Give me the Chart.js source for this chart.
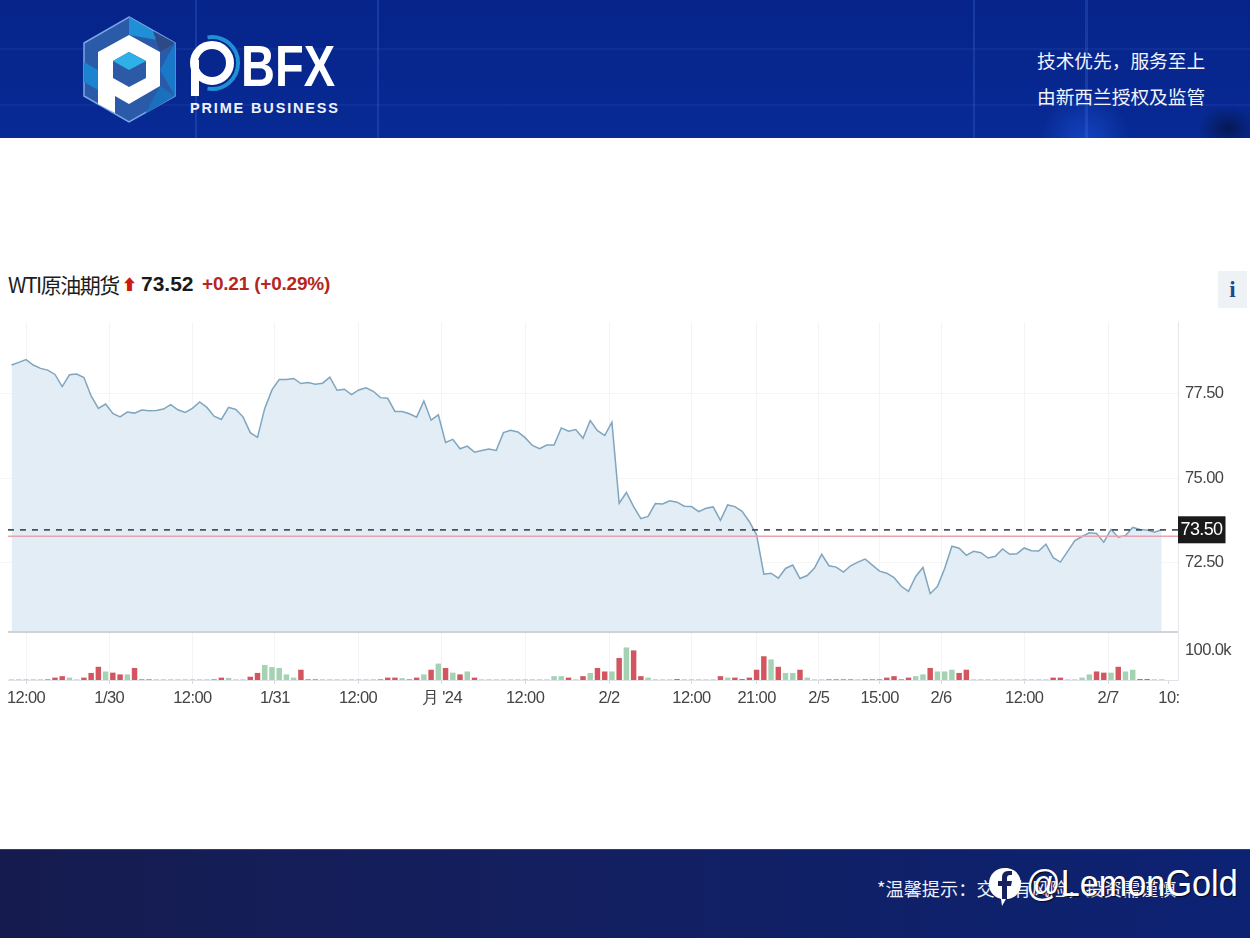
<!DOCTYPE html>
<html lang="zh">
<head>
<meta charset="utf-8">
<title>WTI原油期货</title>
<script src="https://cdn.jsdelivr.net/npm/chart.js@4/dist/chart.umd.min.js"></script>
<style>
html,body{margin:0;padding:0;background:#fff;width:1250px;height:938px;overflow:hidden;font-family:"Noto Sans CJK SC","Noto Sans",sans-serif}
#banner{position:absolute;left:0;top:0;width:1250px;height:138px;overflow:hidden;background:
 radial-gradient(ellipse 30px 22px at 1228px 128px,rgba(5,20,70,.8),rgba(5,20,70,0)),
 radial-gradient(ellipse 45px 50px at 1085px 142px,rgba(30,90,230,.55),rgba(30,90,230,0)),
 linear-gradient(180deg,#06248a 0%,#082a94 100%)}
.vl{position:absolute;top:0;height:138px;width:2px;background:rgba(70,120,235,.25)}
.hl{position:absolute;left:0;width:1250px;height:2px;background:rgba(80,130,235,.1)}
#logo{position:absolute;left:0;top:0}
.slogan{position:absolute;left:1037px;color:#f2f5ff;font-size:18.7px;line-height:24px;white-space:nowrap}
#titleRow{position:absolute;left:8px;top:268px;height:32px;white-space:nowrap}
#titleRow span{position:absolute;top:0;line-height:32px;white-space:nowrap}
#infoBtn{position:absolute;left:1218px;top:271px;width:29px;height:37px;background:#eff2f5;color:#1a4a8c;font:bold 23px/38px "Liberation Serif",serif;text-align:center}
#chartBox{position:absolute;left:0;top:322px;width:1250px;height:393px}
#footer{position:absolute;left:0;top:849px;width:1250px;height:89px;background:linear-gradient(90deg,#151b4e 0%,#141f5e 40%,#0c2273 100%);border-top:1px solid #2c3f8e;box-sizing:border-box}
#tip{position:absolute;left:877px;top:875px;color:#eef1fb;font-size:18.2px;line-height:26px;white-space:nowrap}
#wm{position:absolute;left:1026px;top:861px;color:#fff;font:300 37px/46px "Liberation Sans",sans-serif;white-space:nowrap;transform:scaleX(.925);transform-origin:left top;text-shadow:1px 1px 1px rgba(0,0,0,.75)}
#wmIcon{position:absolute;left:986px;top:866px}
</style>
</head>
<body>
<div id="banner">
 <div class="vl" style="left:195px"></div><div class="vl" style="left:377px"></div>
 <div class="vl" style="left:973px"></div><div class="vl" style="left:1085px;width:3px"></div>
 <div class="hl" style="top:48px"></div><div class="hl" style="top:104px"></div>
 <svg id="logo" width="360" height="138" viewBox="0 0 360 138">
  <polygon points="129,17 175,43 175,96 129,122 84,96 84,43" fill="#2a5aa8" stroke="#7aa6e8" stroke-width="1.5"/>
  <polygon points="129,17 153,31 175,43 129,35" fill="#1f8fd6"/>
  <polygon points="175,43 175,96 160,70" fill="#1a78c8"/>
  <polygon points="153,31 175,43 160,52" fill="#2d4a86"/>
  <polygon points="84,62 98,70 98,90 84,82" fill="#1b83d0"/>
  <polygon points="160,86 175,96 145,114" fill="#1a70bc"/>
  <path d="M129,35 L160,52 L160,86 L129,104 L115,96 L115,113 L98,104 L98,52 Z" fill="#fff"/>
  <polygon points="129,52 146,61 146,78 129,87 113,78 113,61" fill="#2c5aa6"/>
  <polygon points="129,52 146,61 129,70 113,61" fill="#2fb0e6"/>
  <circle cx="212" cy="63" r="18" fill="none" stroke="#fff" stroke-width="8"/>
  <rect x="191" y="60" width="8" height="36" fill="#fff"/>
  <path d="M207.5,37.4 A26,26 0 1 1 207.5,88.6" fill="none" stroke="#1f8fd6" stroke-width="4"/>
  <text x="241" y="86" font-family="Liberation Sans" font-weight="bold" font-size="58" fill="#fff" textLength="94" lengthAdjust="spacingAndGlyphs">BFX</text>
  <text x="190" y="113" font-family="Liberation Sans" font-weight="bold" font-size="14.5" fill="#eef2ff" textLength="148" lengthAdjust="spacing">PRIME BUSINESS</text>
 </svg>
 <div class="slogan" style="top:48px">技术优先，服务至上</div>
 <div class="slogan" style="top:84px">由新西兰授权及监管</div>
</div>

<div id="titleRow">
 <span style="left:0;font-size:21px;color:#1c1c1c;letter-spacing:-1.5px">WTI原油期货</span>
 <span style="left:114px;font-size:15px;color:#cc1a12">⬆</span>
 <span style="left:133px;font:bold 21px/32px 'Liberation Sans',sans-serif;color:#1a1a1a">73.52</span>
 <span style="left:194px;font:bold 19px/32px 'Liberation Sans',sans-serif;color:#b5261e;letter-spacing:-.2px">+0.21 (+0.29%)</span>
</div>
<div id="infoBtn">i</div>

<div id="chartBox"><canvas id="c" width="1250" height="393"></canvas></div>

<div id="footer"></div>
<div id="tip">*温馨提示：交易有风险，投资需谨慎</div>
<svg id="wmIcon" width="38" height="42" viewBox="0 0 38 42">
 <path d="M19,2 C29,2 35,9 35,18 C35,27 28,33 20,33 L16,40 L15,33 C8,31 3,26 3,18 C3,9 9,2 19,2 Z" fill="#fff"/>
 <path d="M21,33 L21,20 L25,20 L26,15 L21,15 L21,12 C21,10 22,9 24,9 L26,9 L26,5 L22,5 C18,5 16,8 16,11 L16,15 L12,15 L12,20 L16,20 L16,33 Z" fill="#16225f"/>
</svg>
<div id="wm">@LemonGold</div>

<script>
const priceValues = [
 78.36,78.44,78.52,78.36,78.26,78.21,78.08,77.72,78.07,78.09,
 77.99,77.44,77.07,77.20,76.92,76.82,76.96,76.93,77.02,77.00,
 77.01,77.05,77.18,77.03,76.95,77.07,77.26,77.10,76.84,76.74,
 77.10,77.04,76.82,76.35,76.21,77.07,77.62,77.93,77.93,77.96,
 77.81,77.84,77.79,77.82,78.00,77.61,77.64,77.48,77.62,77.68,
 77.58,77.39,77.37,76.98,76.98,76.91,76.81,77.29,76.72,76.88,
 76.06,76.15,75.87,75.95,75.77,75.82,75.86,75.82,76.35,76.42,
 76.37,76.20,75.97,75.87,75.98,75.98,76.49,76.39,76.44,76.18,
 76.71,76.41,76.27,76.66,74.25,74.57,74.15,73.79,73.86,74.24,
 74.23,74.32,74.28,74.16,74.15,74.00,74.10,74.14,73.74,74.20,
 74.15,74.01,73.70,73.31,72.14,72.17,72.02,72.31,72.41,72.01,
 72.10,72.32,72.73,72.39,72.35,72.20,72.39,72.50,72.59,72.41,
 72.23,72.17,72.04,71.78,71.63,72.07,72.34,71.56,71.77,72.31,
 72.97,72.91,72.70,72.82,72.78,72.62,72.67,72.89,72.73,72.75,
 72.92,72.84,72.83,73.03,72.63,72.50,72.82,73.14,73.26,73.37,
 73.35,73.09,73.47,73.24,73.29,73.53,73.47,73.45,73.39,73.46
];
const volumeValues = [
 1,0,0,0,0,1,7,12,7,1,7,23,44,28,24,18,18,40,1,1,
 0,0,0,0,0,0,0,0,1,7,6,1,1,10,23,50,43,40,18,7,
 34,1,1,0,0,0,1,0,0,0,0,1,7,7,5,1,7,18,34,55,
 40,24,18,28,7,1,0,0,1,0,0,0,0,0,1,12,12,7,1,12,
 23,40,28,28,74,110,100,12,7,0,1,1,2,0,0,0,1,1,12,7,
 7,2,7,34,80,69,44,23,23,34,7,1,1,1,1,1,1,0,1,1,
 1,7,12,1,7,12,18,40,28,28,34,23,34,1,0,0,0,1,0,0,
 0,0,0,1,7,7,1,1,7,18,28,24,24,44,28,34,2,2,0,0
];
const volumeGreen = [
 1,0,0,0,0,0,0,0,1,1,0,0,0,1,0,0,1,0,0,0,
 0,0,0,0,0,0,0,0,0,0,1,1,1,0,0,1,1,1,1,1,
 0,0,0,0,0,0,1,0,0,0,0,0,0,0,1,0,0,1,0,1,
 0,1,0,1,0,1,0,0,1,0,0,0,0,0,1,1,1,0,1,0,
 1,0,0,1,0,1,0,0,1,0,1,1,0,0,0,0,1,1,0,1,
 0,0,0,0,0,1,0,1,1,0,1,1,1,0,0,0,0,0,0,0,
 0,0,0,0,0,1,1,0,1,1,1,0,0,1,0,0,0,1,0,0,
 0,0,0,1,0,0,1,1,1,1,0,0,1,0,1,1,0,0,0,0
];
const xTickPositions = [2,13.5,25,36.4,47.9,59.5,71,82.6,94,103,111.6,120,128.5,140,151.6,160];
const xTickLabels = ["12:00","1/30","12:00","1/31","12:00","月 '24","12:00","2/2","12:00","21:00","2/5","15:00","2/6","12:00","2/7","10:"];
const priceTicks = [72.5,75,77.5];
const volumeTicks = [100];
const lastPrice = 73.46;
const lastPriceLabel = "73.50";
const prevClose = 73.265;

const tickFont = {family:"'Liberation Sans',sans-serif",size:16.5};
const noPad = s => {s.paddingTop=0;s.paddingBottom=0;s.paddingLeft=0;s.paddingRight=0;};

const overlay = {
 id:'overlay',
 beforeDraw(ch){ch.ctx.letterSpacing='-0.6px';},
 afterDatasetsDraw(ch){
  const {ctx,scales:{x,y,yVol}} = ch;
  const left = 8, right = x.right;
  ctx.save();
  ctx.strokeStyle='#cfd3d8';ctx.lineWidth=2;
  ctx.beginPath();ctx.moveTo(left,y.bottom);ctx.lineTo(right,y.bottom);ctx.stroke();
  ctx.strokeStyle='#dfe2e6';ctx.lineWidth=1;
  ctx.beginPath();ctx.moveTo(left,yVol.bottom+.5);ctx.lineTo(right,yVol.bottom+.5);ctx.stroke();
  const py = y.getPixelForValue(lastPrice);
  ctx.fillStyle='#1a1a1a';ctx.fillRect(right,py-13.5,47.5,27);
  ctx.fillStyle='#fff';ctx.font="18px "+tickFont.family;ctx.textAlign='center';ctx.textBaseline='middle';
  ctx.fillText(lastPriceLabel,right+23.5,py+.5);
  ctx.restore();
 }
};

new Chart(document.getElementById('c'),{
 data:{datasets:[
  {type:'line',order:3,xAxisID:'x',yAxisID:'y',data:priceValues.map((v,i)=>({x:i,y:v})),borderColor:'#7fa5bf',borderWidth:1.5,backgroundColor:'#e3edf5',fill:'start',pointRadius:0,tension:0},
  {type:'line',order:2,xAxisID:'x',yAxisID:'y',data:[{x:-0.5,y:prevClose},{x:161.26,y:prevClose}],borderColor:'#e8a3ae',borderWidth:1.5,pointRadius:0,fill:false},
  {type:'line',order:1,xAxisID:'x',yAxisID:'y',data:[{x:-0.5,y:lastPrice},{x:161.26,y:lastPrice}],borderColor:'#4a535d',borderWidth:1.7,borderDash:[6,6],pointRadius:0,fill:false},
  {type:'bar',order:4,xAxisID:'x',yAxisID:'yVol',data:volumeValues.map((v,i)=>({x:i,y:v})),backgroundColor:volumeGreen.map(g=>g?'#a5d2b3':'#d2555f'),barThickness:4.8,borderWidth:0}
 ]},
 options:{
  responsive:false,animation:false,
  layout:{padding:0},
  plugins:{legend:{display:false},tooltip:{enabled:false}},
  scales:{
   x:{type:'linear',position:'bottom',min:-1.6,max:161.26,offset:false,
    afterBuildTicks(s){s.ticks=xTickPositions.map(value=>({value}));},
    afterFit(s){s.height=35;noPad(s);},
    grid:{color:c=>c.index===xTickPositions.length-1?'rgba(0,0,0,0)':'#f2f4f6',lineWidth:1,tickLength:4,tickColor:'#d5d8dc',offset:false},
    border:{display:false},
    ticks:{autoSkip:false,maxRotation:0,includeBounds:false,padding:5,color:'#444',font:tickFont,callback:(v,i)=>xTickLabels[i]}
   },
   y:{type:'linear',position:'right',stack:'p',stackWeight:310,min:70.42,max:79.64,
    afterBuildTicks(s){s.ticks=priceTicks.map(value=>({value}));},
    afterFit(s){s.width=72;noPad(s);},
    grid:{color:'#f3f5f7',drawTicks:false},
    border:{color:'#e4e6e9'},
    ticks:{padding:7,color:'#444',font:tickFont,callback:v=>v.toFixed(2)}
   },
   yVol:{type:'linear',position:'right',stack:'p',stackWeight:48,min:0,max:164,
    afterBuildTicks(s){s.ticks=volumeTicks.map(value=>({value}));},
    afterFit(s){s.width=72;noPad(s);},
    grid:{display:false,drawTicks:false},
    border:{color:'#e4e6e9'},
    ticks:{padding:7,color:'#444',font:tickFont,callback:v=>v.toFixed(1)+'k'}
   }
  }
 },
 plugins:[overlay]
});
</script>
</body>
</html>
